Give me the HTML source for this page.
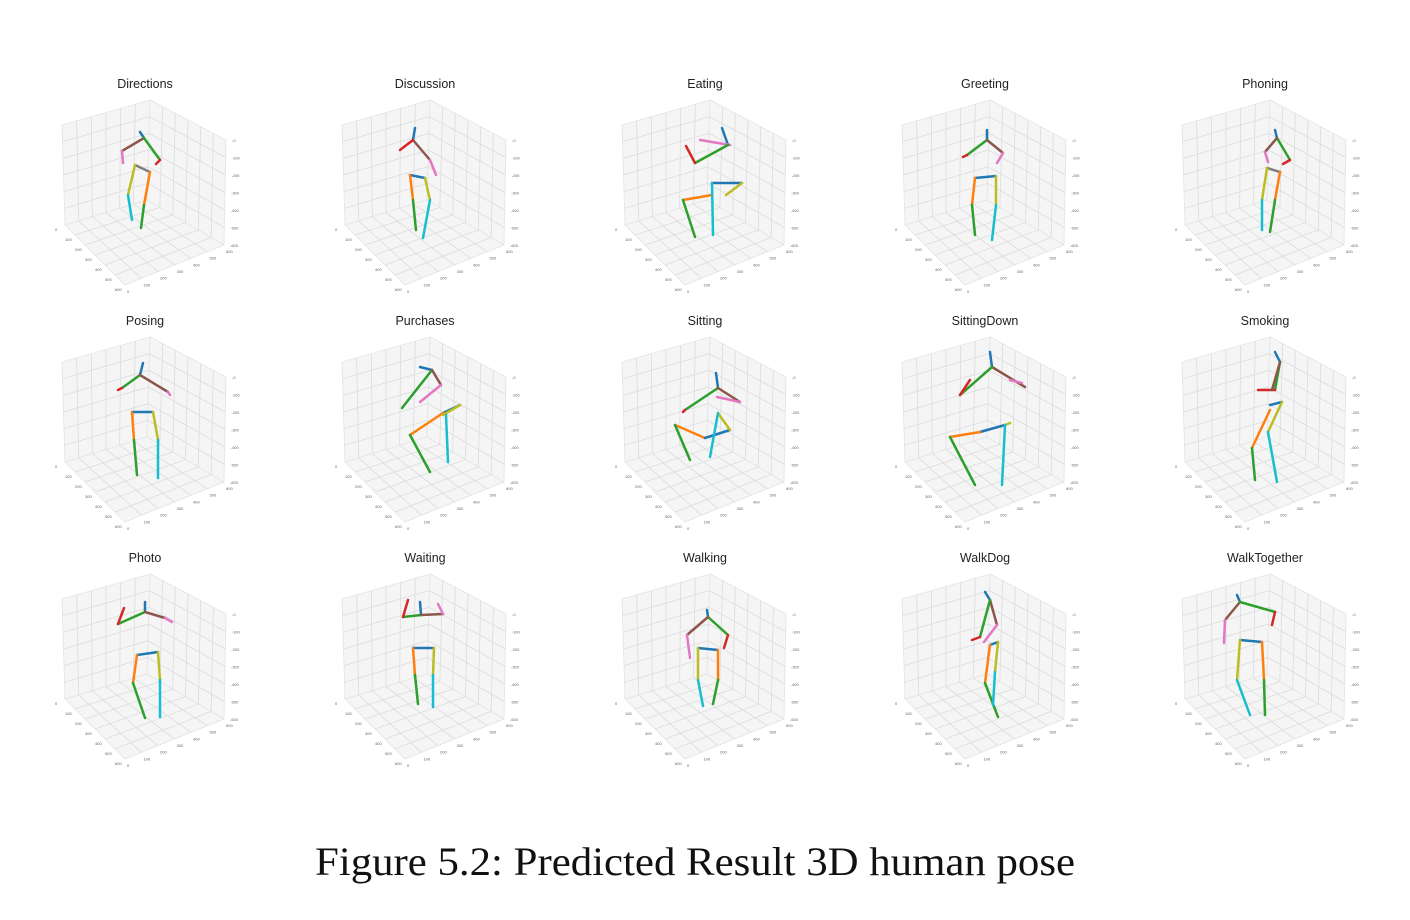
<!DOCTYPE html>
<html><head><meta charset="utf-8"><style>
html,body{margin:0;padding:0;background:#fff;width:1410px;height:920px;overflow:hidden}
svg{display:block}
.t{font-family:"Liberation Sans",sans-serif;font-size:12.5px;fill:#222;text-anchor:middle}
.cap{font-family:"Liberation Serif",serif;font-size:40px;fill:#111}
</style></head><body>
<svg id="fig" width="1410" height="920">
<g id="panels"></g>
<text class="cap" x="315" y="875" textLength="760" lengthAdjust="spacingAndGlyphs">Figure 5.2: Predicted Result 3D human pose</text>
</svg>
<script>
const titles=["Directions","Discussion","Eating","Greeting","Phoning","Posing","Purchases","Sitting","SittingDown","Smoking","Photo","Waiting","Walking","WalkDog","WalkTogether"];
const colX=[145,425,705,985,1265];
const rowY=[83,320,557];
const C={b:"#1f77b4",o:"#ff7f0e",g:"#2ca02c",r:"#d62728",br:"#8c564b",p:"#e377c2",y:"#bcbd22",c:"#17becf",k:"#7f7f7f"};
// segments per panel: [color, x1,y1,x2,y2] in figure coordinates
const skeletons=[
[["b",140,132,144,138],["br",144,138,122,151],["p",122,151,123,163],["g",144,138,160,160],["r",160,160,156,164],["k",135,165,150,172],["y",135,165,128,195],["c",128,195,132,220],["o",150,172,144,205],["g",144,205,141,228]],
[["b",415,128,413,140],["br",413,140,430,160],["p",430,160,436,175],["r",413,140,400,150],["b",410,175,425,178],["o",410,175,413,200],["g",413,200,416,230],["y",425,178,430,200],["c",430,200,423,238]],
[["b",722,128,728,145],["p",700,140,730,145],["g",728,145,695,163],["r",695,163,686,146],["b",712,183,742,183],["o",712,195,683,200],["g",683,200,695,237],["y",742,183,726,195],["c",712,183,713,235]],
[["b",987,130,987,140],["g",987,140,967,155],["r",967,155,963,157],["br",987,140,1003,153],["p",1003,153,997,163],["b",975,178,996,176],["o",975,178,972,205],["g",972,205,975,235],["y",996,176,996,205],["c",996,205,992,240]],
[["b",1275,130,1277,138],["g",1277,138,1290,160],["r",1290,160,1283,164],["br",1277,138,1265,152],["p",1265,152,1268,162],["k",1267,168,1280,172],["y",1267,168,1262,200],["c",1262,200,1262,230],["o",1280,172,1275,200],["g",1275,200,1270,232]],
[["b",143,363,140,375],["g",140,375,122,388],["r",122,388,118,390],["br",140,375,168,392],["p",168,392,170,395],["b",132,412,153,412],["o",132,412,134,440],["g",134,440,137,475],["y",153,412,158,440],["c",158,440,158,478]],
[["b",420,367,432,370],["g",432,370,402,408],["br",432,370,441,385],["p",441,385,420,402],["b",443,413,460,405],["o",443,413,410,435],["g",410,435,430,472],["y",460,405,443,415],["c",446,415,448,462]],
[["b",716,373,718,388],["g",718,388,685,410],["r",685,410,683,412],["br",718,388,740,402],["p",740,402,717,397],["o",675,425,705,438],["g",675,425,690,460],["b",705,438,730,430],["y",730,430,718,413],["c",718,413,710,457]],
[["b",990,352,992,367],["br",992,367,1025,387],["p",1010,380,1022,383],["g",992,367,960,395],["r",960,395,970,380],["b",980,432,1005,425],["o",980,432,950,437],["g",950,437,975,485],["y",1005,425,1010,423],["c",1005,425,1002,485]],
[["b",1275,352,1280,362],["g",1280,362,1275,390],["r",1275,390,1258,390],["br",1280,362,1272,390],["b",1270,405,1282,402],["o",1270,410,1252,448],["g",1252,448,1255,480],["y",1282,402,1268,432],["c",1268,432,1277,482]],
[["b",145,602,145,612],["g",145,612,118,624],["r",118,624,124,608],["br",145,612,165,618],["p",165,618,172,622],["b",137,655,158,652],["o",137,655,133,683],["g",133,683,145,718],["y",158,652,160,680],["c",160,680,160,717]],
[["b",420,602,421,615],["g",421,615,403,617],["r",403,617,408,600],["br",421,615,443,614],["p",443,614,438,604],["b",413,648,434,648],["o",413,648,415,675],["g",415,675,418,704],["y",434,648,433,675],["c",433,675,433,707]],
[["b",707,610,708,617],["g",708,617,728,635],["r",728,635,724,648],["br",708,617,687,635],["p",687,635,690,658],["b",698,648,718,650],["y",698,648,698,680],["c",698,680,703,706],["o",718,650,718,680],["g",718,680,713,704]],
[["b",985,592,990,600],["br",990,600,997,625],["p",997,625,984,642],["g",990,600,980,637],["r",980,637,972,640],["b",990,645,998,642],["o",990,645,985,683],["g",985,683,998,717],["y",998,642,995,672],["c",995,672,993,705]],
[["b",1237,595,1240,602],["br",1240,602,1225,620],["p",1225,620,1224,643],["g",1240,602,1275,612],["r",1275,612,1272,625],["b",1240,640,1262,642],["y",1240,640,1237,680],["c",1237,680,1250,715],["o",1262,642,1264,680],["g",1264,680,1265,715]]
];
const NS="http://www.w3.org/2000/svg";
const root=document.getElementById("panels");
function el(tag,attrs,parent){const e=document.createElementNS(NS,tag);for(const k in attrs)e.setAttribute(k,attrs[k]);parent.appendChild(e);return e;}
function lerp(a,b,t){return [a[0]+(b[0]-a[0])*t,a[1]+(b[1]-a[1])*t];}
titles.forEach((name,i)=>{
  const cx=colX[i%5], ty=rowY[Math.floor(i/5)];
  const g=el("g",{},root);
  
  
  const t=el("text",{class:"t",x:cx,y:ty+5},g);t.textContent=name;
  
  
  const y0=ty+17;
  const Lt=[cx-83,y0+25],Bt=[cx+5,y0],Rt=[cx+81,y0+40];
  const Lb=[cx-80,y0+125],Bb=[cx+2,y0+100],Rb=[cx+79,y0+145],F=[cx-20,y0+185];
  const box=el("g",{},g);
  
  
  const pane=(pts)=>el("polygon",{points:pts.map(p=>p.join(",")).join(" "),fill:"#f5f5f5",stroke:"#e4e4e4","stroke-width":0.8},box);
  pane([Lt,Bt,Bb,Lb]);pane([Bt,Rt,Rb,Bb]);pane([Lb,Bb,Rb,F]);
  const line=(a,b)=>el("line",{x1:a[0],y1:a[1],x2:b[0],y2:b[1],stroke:"#dcdcdc","stroke-width":0.8},box);
  for(let k=1;k<6;k++){const s=k/6;
    line(lerp(Lt,Bt,s),lerp(Lb,Bb,s));line(lerp(Bt,Rt,s),lerp(Bb,Rb,s));
    line(lerp(Lt,Lb,s),lerp(Bt,Bb,s));line(lerp(Bt,Bb,s),lerp(Rt,Rb,s));
    line(lerp(Lb,Bb,s),lerp(F,Rb,s));
    line(lerp(Bb,Rb,s),lerp(Lb,F,s));
  }
  for(let k=0;k<7;k++){const p=lerp(Rt,Rb,k/6);const tt=el("text",{x:p[0]+6,y:p[1]+2,"font-size":4,fill:"#666","font-family":"Liberation Sans, sans-serif"},box);tt.textContent="-"+(k*100);}
  for(let k=0;k<7;k++){const p=lerp(Lb,F,k/6);const tt=el("text",{x:p[0]-10,y:p[1]+6,"font-size":4,fill:"#666","font-family":"Liberation Sans, sans-serif"},box);tt.textContent=(k*100);}
  for(let k=0;k<7;k++){const p=lerp(F,Rb,k/6);const tt=el("text",{x:p[0]+2,y:p[1]+8,"font-size":4,fill:"#666","font-family":"Liberation Sans, sans-serif"},box);tt.textContent=(k*100);}
  skeletons[i].forEach(s=>{
    const ln=el("line",{x1:s[1],y1:s[2],x2:s[3],y2:s[4],stroke:C[s[0]],"stroke-width":2.5,"stroke-linecap":"round"},g);
    
    
  });
});
</script>
</body></html>
